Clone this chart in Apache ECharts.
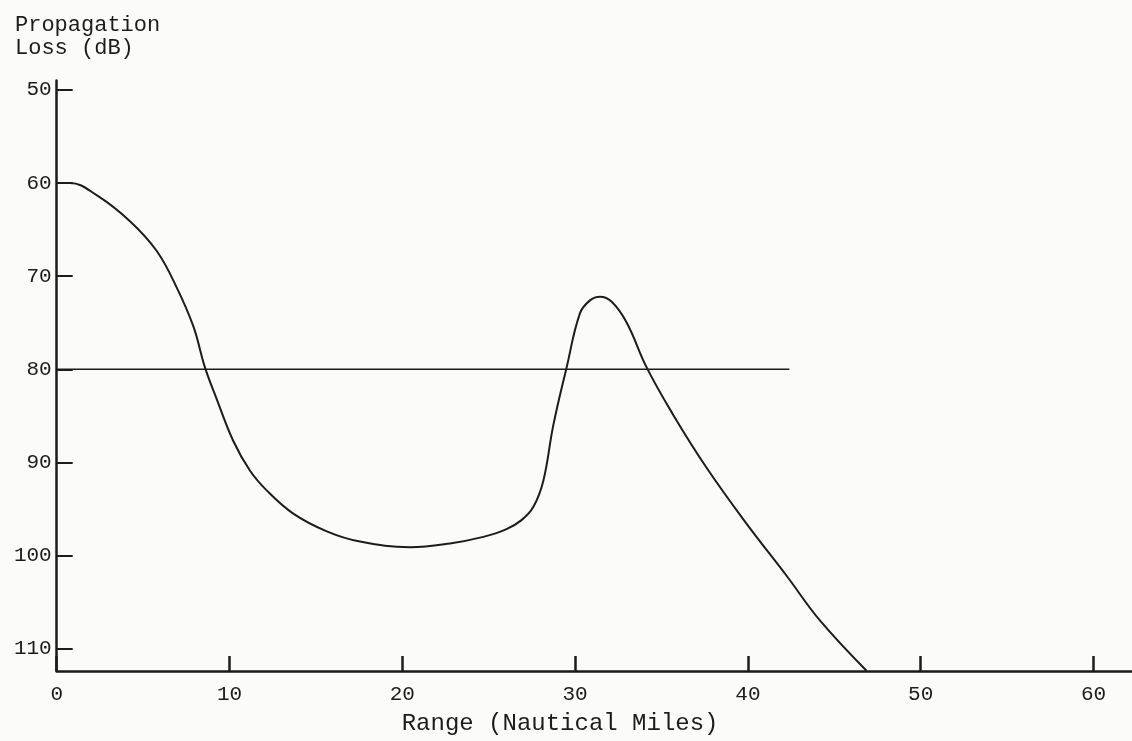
<!DOCTYPE html>
<html>
<head>
<meta charset="utf-8">
<script src="https://cdn.jsdelivr.net/npm/echarts@6/dist/echarts.min.js"></script>
<style>
html,body{margin:0;padding:0;background:#fbfbfa;}
#chart{width:1132px;height:741px;}
</style>
</head>
<body>
<div id="chart"></div>
<script>
// Range (nautical miles) and propagation loss (dB)
const rangeNm = [0, 0.77, 2.31, 4.24, 5.79, 6.94, 7.91, 8.58, 9.26, 10.22, 11.19, 12.15, 13.69, 15.63, 17.55, 20.45, 22.76, 24.69, 26.0, 26.9, 27.58, 28.16, 28.74, 29.51, 30.28, 30.86, 31.44, 32.12, 32.99, 34.14, 35.68, 37.62, 39.93, 42.25, 44.18, 46.88];
const lossDb  = [60, 60, 61.3, 64.1, 67.3, 71.2, 75.4, 79.8, 83.2, 87.7, 90.9, 93.0, 95.5, 97.4, 98.5, 99.1, 98.7, 98.0, 97.2, 96.2, 94.8, 92.0, 86.0, 79.8, 74.0, 72.6, 72.2, 72.75, 75.0, 79.8, 84.9, 90.6, 96.6, 102.2, 107.0, 112.4];
// Horizontal reference level
const refRange = [0, 42.4];
const refLoss = [80, 80];
// Tick labels
const xTicks = [0, 10, 20, 30, 40, 50, 60];
const yTicks = [50, 60, 70, 80, 90, 100, 110];

const font = 'Liberation Mono, DejaVu Sans Mono, monospace';
const ink = '#1c1c1c';

const chart = echarts.init(document.getElementById('chart'));
chart.setOption({
  backgroundColor: '#fbfbfa',
  animation: false,
  title: {
    text: 'Propagation\nLoss (dB)',
    left: 10, top: 9,
    textStyle: { fontFamily: font, fontSize: 22, lineHeight: 23, fontWeight: 'normal', color: ink }
  },
  grid: { left: 56.7, right: 0.5, top: 80.6, bottom: 61 },
  xAxis: {
    type: 'value', min: 0, max: 62.2,
    name: 'Range (Nautical Miles)', nameLocation: 'middle', nameGap: 41,
    nameTextStyle: { fontFamily: font, fontSize: 24, color: ink, padding: [0, 68, 0, 0] },
    axisLine: { show: true, onZero: false, lineStyle: { color: ink, width: 2.5 } },
    axisTick: { show: true, inside: true, length: 15, customValues: xTicks, lineStyle: { color: ink, width: 2.5 } },
    axisLabel: { customValues: xTicks, margin: 13, fontFamily: font, fontSize: 21, color: ink },
    splitLine: { show: false }
  },
  yAxis: {
    type: 'value', inverse: true, min: 49, max: 112.4,
    axisLine: { show: true, onZero: false, lineStyle: { color: ink, width: 2.5 } },
    axisTick: { show: true, inside: true, length: 16, customValues: yTicks, lineStyle: { color: ink, width: 2 } },
    axisLabel: { customValues: yTicks, margin: 5, fontFamily: font, fontSize: 21, color: ink },
    splitLine: { show: false }
  },
  series: [
    {
      type: 'line', showSymbol: false, smooth: 0.4,
      data: rangeNm.map((r, i) => [r, lossDb[i]]),
      lineStyle: { color: ink, width: 2 }
    },
    {
      type: 'line', showSymbol: false,
      data: refRange.map((r, i) => [r, refLoss[i]]),
      lineStyle: { color: ink, width: 1.6 }
    }
  ]
});
</script>
</body>
</html>
